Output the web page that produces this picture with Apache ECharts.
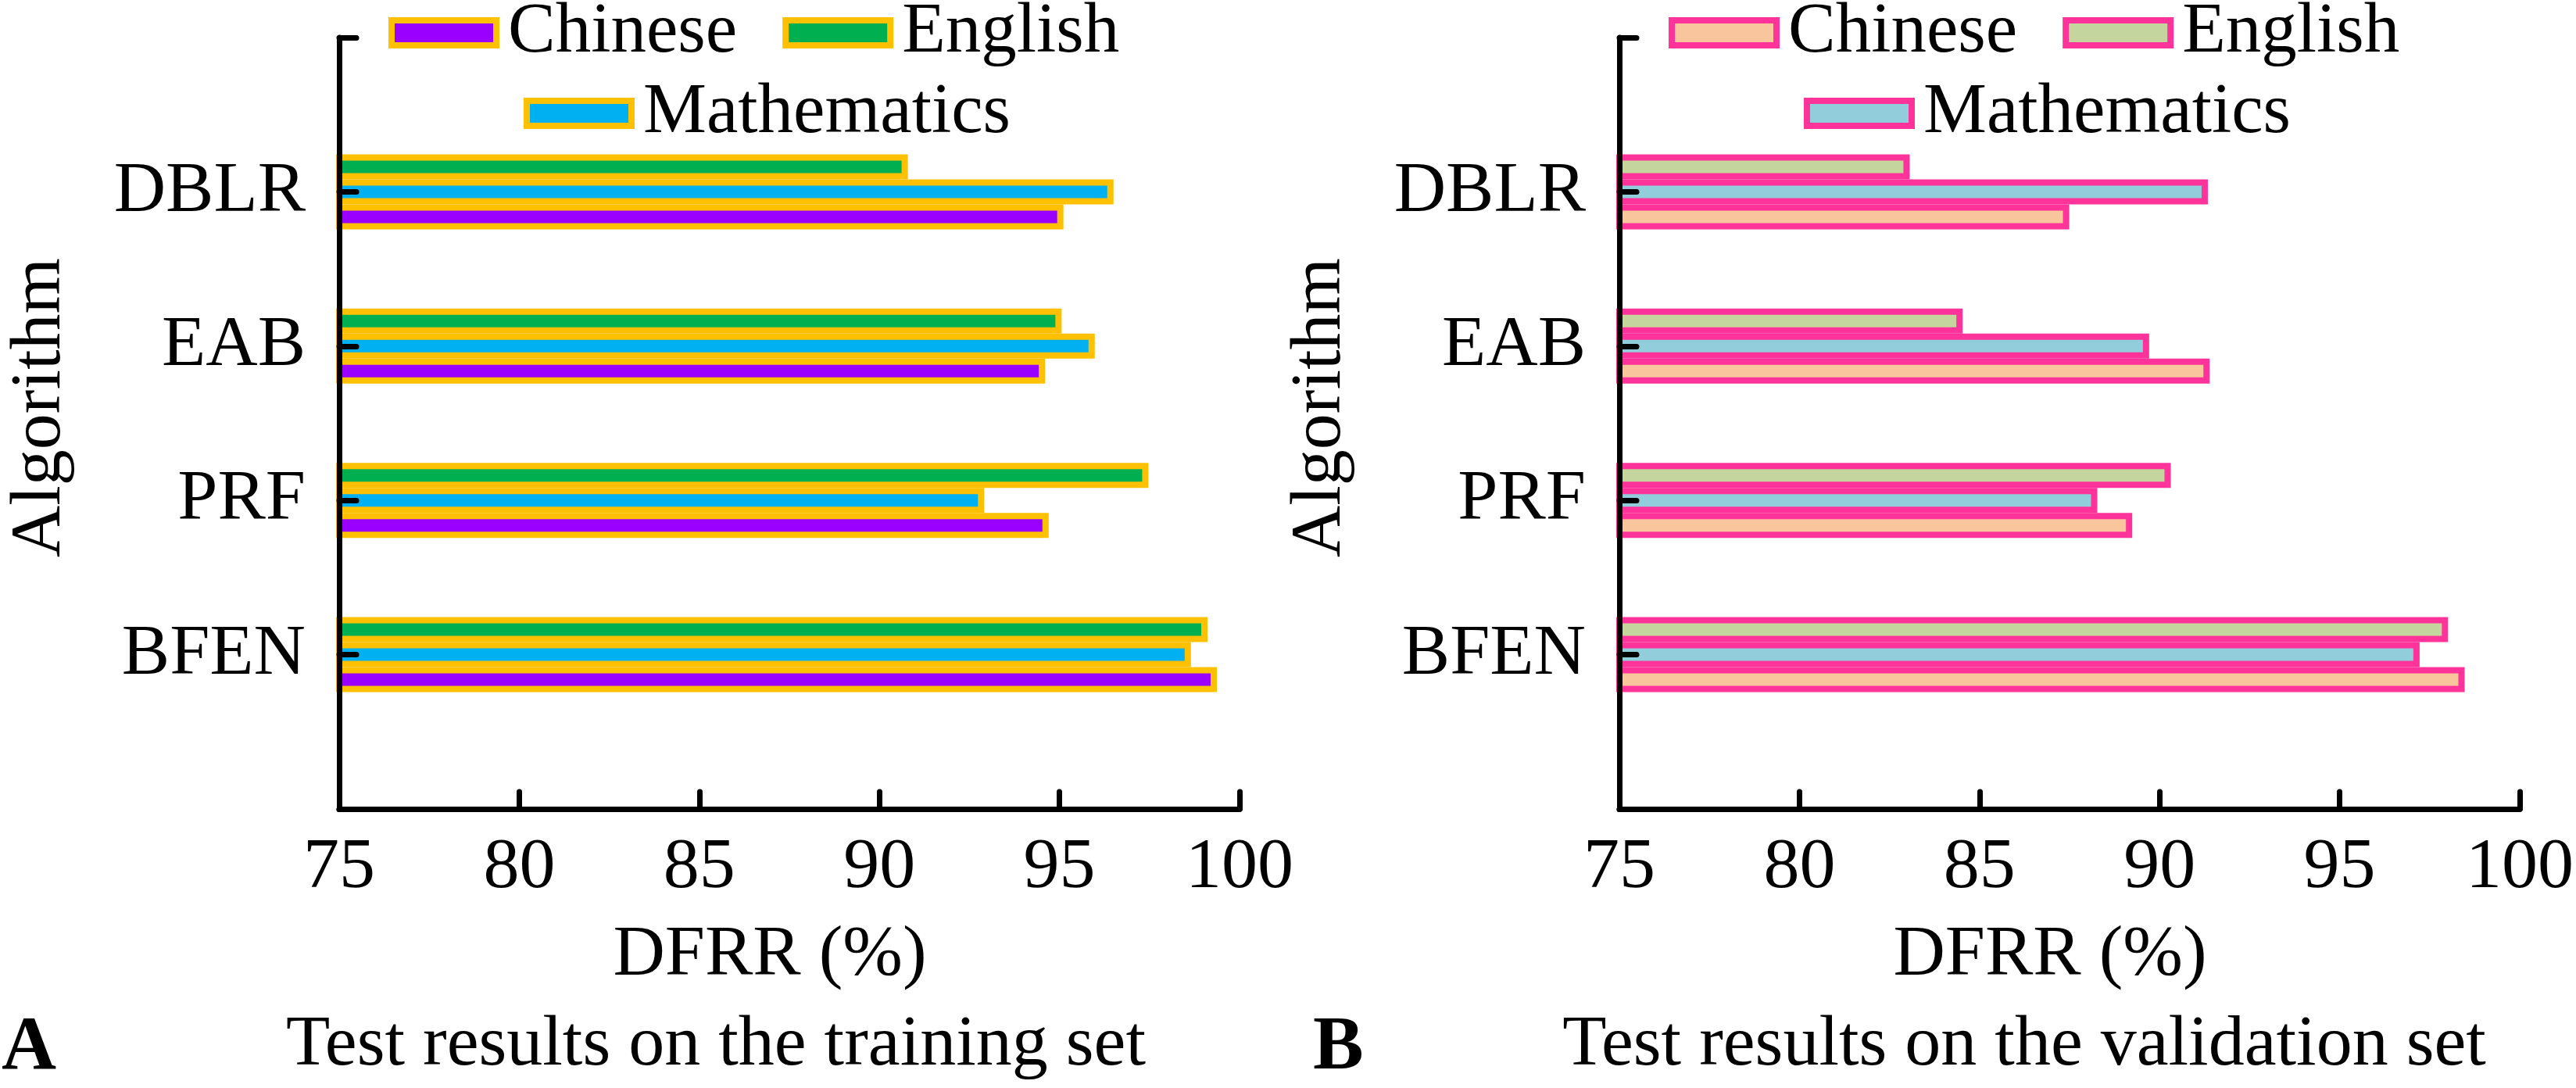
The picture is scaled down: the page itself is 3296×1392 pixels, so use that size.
<!DOCTYPE html>
<html><head><meta charset="utf-8">
<script src="https://cdn.jsdelivr.net/npm/echarts@6/dist/echarts.min.js"></script>
<style>
html,body{margin:0;padding:0;background:#fff;width:3296px;height:1392px;overflow:hidden}
#a{position:absolute;left:0;top:0;width:1720px;height:1392px}
#b{position:absolute;left:1640px;top:0;width:1656px;height:1392px}
</style></head><body><div id="a"></div><div id="b"></div>
<script>
// categories (bottom to top)
const algorithms = ['BFEN', 'PRF', 'EAB', 'DBLR'];
const xTicks = [75, 80, 85, 90, 95, 100];
// Panel A: training set (values in order BFEN, PRF, EAB, DBLR)
const trainChinese = [99.37, 94.70, 94.60, 95.11];
const trainEnglish = [99.11, 97.47, 95.06, 90.79];
const trainMath = [98.65, 92.91, 95.98, 96.50];
// Panel B: validation set
const valChinese = [98.47, 89.24, 91.39, 87.49];
const valEnglish = [98.01, 90.31, 84.53, 83.06];
const valMath = [97.22, 88.27, 89.71, 91.34];

const FONT = 'Liberation Serif';

function build(el, cfg) {
  const chart = echarts.init(document.getElementById(el), null, {renderer: 'canvas'});
  const pad = v => [null].concat(v).concat([null]);
  const mk = (name, vals, color) => ({
    name: name, type: 'bar', data: pad(vals), barWidth: 32, barGap: '0%',
    itemStyle: {color: color, borderColor: cfg.border, borderWidth: 8}
  });
  const txt = (size) => ({fontSize: size, lineHeight: size, fontFamily: FONT, color: '#000', fontWeight: 'normal'});
  const legendBase = {
    icon: 'rect', itemWidth: 134, itemHeight: 32, selectedMode: false,
    itemStyle: {borderColor: cfg.border, borderWidth: 8},
    textStyle: {fontSize: 91, fontFamily: FONT, color: '#000', lineHeight: 92, padding: [0, 0, 0, 10]}
  };
  chart.setOption({
    animation: false,
    backgroundColor: 'transparent',
    textStyle: {fontFamily: FONT, color: '#000'},
    grid: {left: cfg.gridLeft, top: 48, width: 1152, height: 987, containLabel: false, outerBoundsMode: 'none'},
    legend: [
      Object.assign({}, legendBase, {data: ['Chinese', 'English'], left: cfg.gridLeft + 58, top: -9, itemGap: 58}),
      Object.assign({}, legendBase, {data: ['Mathematics'], left: cfg.gridLeft + 231, top: 94})
    ],
    xAxis: {
      type: 'value', min: xTicks[0], max: xTicks[xTicks.length - 1], interval: xTicks[1] - xTicks[0], z: 10,
      splitLine: {show: false},
      axisLine: {show: true, lineStyle: {color: '#000', width: 7, cap: 'round'}},
      axisTick: {show: true, inside: true, length: 22, lineStyle: {color: '#000', width: 7, cap: 'round'}},
      axisLabel: Object.assign({margin: 30}, txt(92)),
      name: 'DFRR (%)', nameLocation: 'middle', nameGap: 142,
      nameTextStyle: Object.assign({padding: [0, 50, 0, 0]}, txt(92))
    },
    yAxis: {
      type: 'category', data: [''].concat(algorithms).concat(['']), boundaryGap: false, z: 10,
      axisLine: {show: true, lineStyle: {color: '#000', width: 7, cap: 'round'}},
      axisTick: {show: true, inside: true, length: 22, interval: 0, lineStyle: {color: '#000', width: 7, cap: 'round'}},
      axisLabel: Object.assign({margin: 43, interval: 0}, txt(92)),
      name: 'Algorithm', nameLocation: 'middle', nameGap: 336, nameRotate: 90,
      nameTextStyle: Object.assign({padding: [0, 0, 0, 40]}, txt(92))
    },
    series: [
      mk('English', cfg.english, cfg.colors[1]),
      mk('Mathematics', cfg.math, cfg.colors[2]),
      mk('Chinese', cfg.chinese, cfg.colors[0])
    ],
    graphic: [
      {type: 'text', x: cfg.letterX, y: 1342, style: {text: cfg.letter, font: 'bold 97px ' + FONT, fill: '#000', align: 'left', verticalAlign: 'middle'}},
      {type: 'text', x: cfg.titleX, y: 1338, style: {text: cfg.title, font: '92px ' + FONT, fill: '#000', align: 'center', verticalAlign: 'middle'}}
    ]
  });
}

build('a', {
  chinese: trainChinese, english: trainEnglish, math: trainMath,
  colors: ['#9900FF', '#00B050', '#00B0F0'], border: '#FFC000', gridLeft: 434,
  letter: 'A', letterX: 2, title: 'Test results on the training set', titleX: 916
});
build('b', {
  chinese: valChinese, english: valEnglish, math: valMath,
  colors: ['#F8C59C', '#C4D69E', '#92CDDC'], border: '#FF3399', gridLeft: 432,
  letter: 'B', letterX: 40, title: 'Test results on the validation set', titleX: 950
});
</script></body></html>
